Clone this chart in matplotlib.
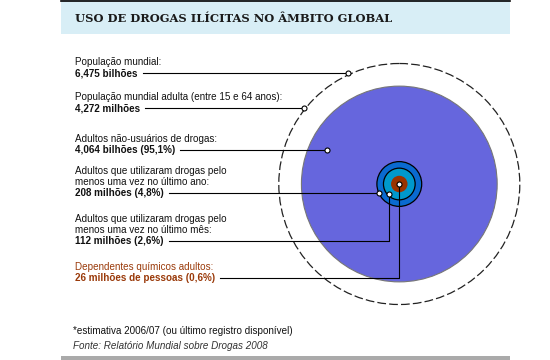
import numpy as np
import matplotlib
matplotlib.use('Agg')
import matplotlib.pyplot as plt
from matplotlib.patches import Circle, Rectangle

# dados (milhões de pessoas)
valores = [6475, 4272, 4064, 208, 112, 26]
rotulos = [
    ['População mundial:'],
    ['População mundial adulta (entre 15 e 64 anos):'],
    ['Adultos não-usuários de drogas:'],
    ['Adultos que utilizaram drogas pelo', 'menos uma vez no último ano:'],
    ['Adultos que utilizaram drogas pelo', 'menos uma vez no último mês:'],
    ['Dependentes químicos adultos:'],
]
destaques = ['6,475 bilhões', '4,272 milhões', '4,064 bilhões (95,1%)',
             '208 milhões (4,8%)', '112 milhões (2,6%)',
             '26 milhões de pessoas (0,6%)']
titulo = 'USO DE DROGAS ILÍCITAS NO ÂMBITO GLOBAL'
nota = '*estimativa 2006/07 (ou último registro disponível)'
fonte = 'Fonte: Relatório Mundial sobre Drogas 2008'

plt.rcParams['font.family'] = ['Liberation Sans', 'DejaVu Sans']

fig = plt.figure(figsize=(5.5, 3.6), dpi=100)
ax = fig.add_axes([0, 0, 1, 1])
ax.set_xlim(0, 550)
ax.set_ylim(360, 0)
ax.axis('off')

# cabeçalho
ax.add_patch(Rectangle((61, 0), 449, 34, fc='#d8eef6', ec='none'))
ax.plot([61, 510], [0.8, 0.8], color='black', lw=1.2)
ax.text(75, 18, titulo, family='DejaVu Serif', weight='bold', fontsize=8.25,
        color='#1a1a1a', va='center')

# círculos (raio proporcional à raiz do valor)
cx, cy = 399.3, 184
R = 120.5
raio = [R * np.sqrt(v / valores[0]) for v in valores]

ax.add_patch(Circle((cx, cy), raio[0], fill=False, ec='#222222', lw=0.9,
                    ls=(0, (7, 2.5))))
ax.add_patch(Circle((cx, cy), raio[1], fc='#6666dd', ec='#777777', lw=0.8))
ax.add_patch(Circle((cx, cy), raio[3] + 0.8, fc='#0a6ad0', ec='black', lw=0.9))
ax.add_patch(Circle((cx, cy), raio[4], fc='#0099cc', ec='black', lw=0.9))
ax.add_patch(Circle((cx, cy), raio[5] + 0.6, fc='#993300', ec='none'))

# linhas de chamada
y_linha = [73.3, 108.3, 150, 193.3, 241, 277.7]
cores = ['#111111'] * 5 + ['#9a3a0a']
# pontos de destino de cada chamada
alvo_y = [73.3, 108.3, 150, 193.3, 194, cy]
alvo_x = [
    cx - np.sqrt((raio[0] + 1.5)**2 - (cy - alvo_y[0])**2),
    cx - np.sqrt((raio[0] + 1.5)**2 - (cy - alvo_y[1])**2),
    326.7,
    cx - np.sqrt((raio[3] + 0.8)**2 - (alvo_y[3] - cy)**2),
    cx - 10,
    cx,
]

fig.canvas.draw()
r = fig.canvas.get_renderer()
inv = ax.transData.inverted()

for i in range(6):
    y = y_linha[i]
    t = ax.text(75, y, destaques[i], fontsize=7.1, weight='bold',
                color=cores[i], va='center')
    for j, linha in enumerate(reversed(rotulos[i])):
        ax.text(75, y - 10.9 * (j + 1), linha, fontsize=7.1,
                color=cores[i], va='center')
    bb = t.get_window_extent(renderer=r)
    x0 = inv.transform((bb.x1, 0))[0] + 5
    if i < 4:
        ax.plot([x0, alvo_x[i]], [y, y], color='black', lw=0.8)
    else:
        ax.plot([x0, alvo_x[i], alvo_x[i]], [y, y, alvo_y[i]], color='black', lw=0.8)
    ax.plot(alvo_x[i], alvo_y[i], 'o', ms=3.6, mfc='white', mec='black',
            mew=0.8, zorder=5)

# rodapé
ax.text(73, 331, nota, fontsize=7.1, color='#111111', va='center')
ax.text(73, 346, fonte, fontsize=7.1, style='italic', color='#333333', va='center')
ax.add_patch(Rectangle((61, 356), 449, 4, fc='#aaaaaa', ec='none'))

fig.savefig('out.png', dpi=100)
